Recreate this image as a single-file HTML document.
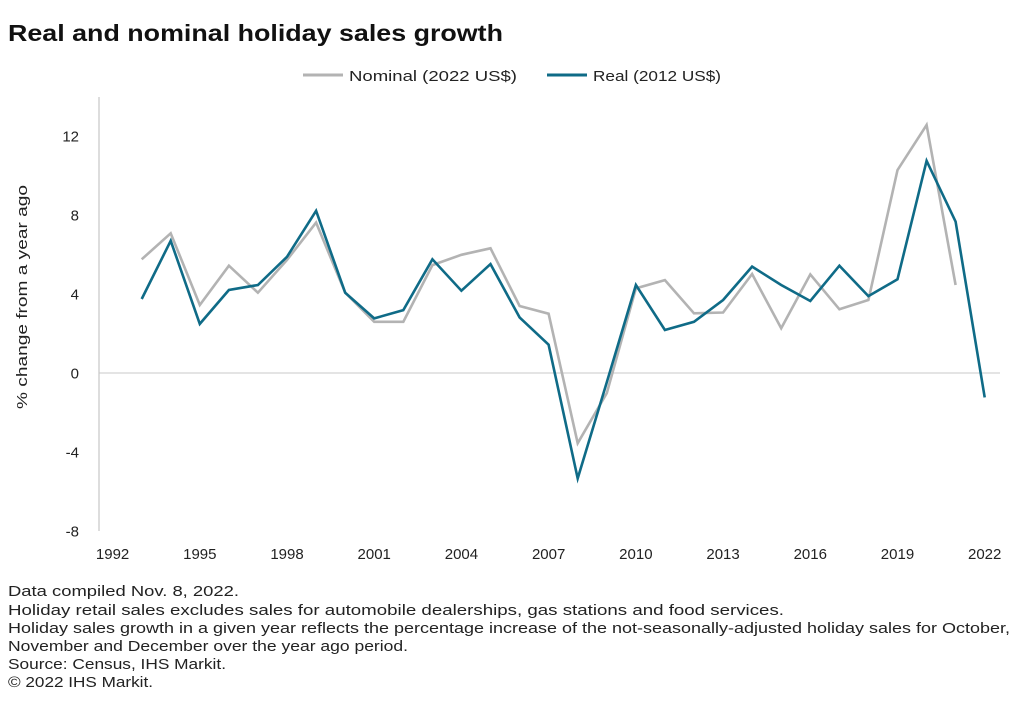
<!DOCTYPE html>
<html><head><meta charset="utf-8"><style>
body{margin:0;background:#fff;font-family:"Liberation Sans",sans-serif;}
svg text{font-family:"Liberation Sans",sans-serif;}
</style></head><body>
<svg width="1013" height="720" viewBox="0 0 1013 720">
<text x="8" y="41" font-size="23" font-weight="bold" fill="#111" textLength="495" lengthAdjust="spacingAndGlyphs">Real and nominal holiday sales growth</text>
<g>
<g><line x1="303" y1="75" x2="343" y2="75" stroke="#b3b3b3" stroke-width="3"/><text x="349" y="81" font-size="15" fill="#222" textLength="168" lengthAdjust="spacingAndGlyphs">Nominal (2022 US$)</text></g>
<g><line x1="547" y1="75" x2="587" y2="75" stroke="#0f6b87" stroke-width="3"/><text x="593" y="81" font-size="15" fill="#222" textLength="128" lengthAdjust="spacingAndGlyphs">Real (2012 US$)</text></g>
</g>
<line x1="99" y1="97" x2="99" y2="531" stroke="#bbb" stroke-width="1"/>
<g id="yticks"></g>
<g id="xticks"></g>
<text transform="translate(27,297) rotate(-90)" text-anchor="middle" font-size="15" fill="#222" textLength="224" lengthAdjust="spacingAndGlyphs">% change from a year ago</text>
<line x1="99" y1="373" x2="1000" y2="373" stroke="#c8c8c8" stroke-width="1"/>
<g id="series"></g>
<g font-size="14.5" fill="#222" lengthAdjust="spacingAndGlyphs">
<text x="8" y="596" textLength="231" lengthAdjust="spacingAndGlyphs">Data compiled Nov. 8, 2022.</text>
<text x="8" y="615" textLength="776" lengthAdjust="spacingAndGlyphs">Holiday retail sales excludes sales for automobile dealerships, gas stations and food services.</text>
<text x="8" y="633" textLength="1002" lengthAdjust="spacingAndGlyphs">Holiday sales growth in a given year reflects the percentage increase of the not-seasonally-adjusted holiday sales for October,</text>
<text x="8" y="651" textLength="400" lengthAdjust="spacingAndGlyphs">November and December over the year ago period.</text>
<text x="8" y="669" textLength="218" lengthAdjust="spacingAndGlyphs">Source: Census, IHS Markit.</text>
<text x="8" y="687" textLength="145" lengthAdjust="spacingAndGlyphs">© 2022 IHS Markit.</text>
</g>
</svg>
<script>
const years=[1993,1994,1995,1996,1997,1998,1999,2000,2001,2002,2003,2004,2005,2006,2007,2008,2009,2010,2011,2012,2013,2014,2015,2016,2017,2018,2019,2020,2021,2022];
const nominal=[5.77,7.09,3.46,5.45,4.08,5.74,7.63,4.08,2.61,2.61,5.48,6.0,6.33,3.41,3.02,-3.54,-1.0,4.3,4.72,3.04,3.08,5.03,2.28,5.01,3.24,3.71,10.29,12.57,4.47,null];
const real=[3.76,6.71,2.5,4.22,4.47,5.9,8.23,4.08,2.78,3.2,5.77,4.18,5.53,2.83,1.45,-5.32,-0.45,4.47,2.19,2.61,3.71,5.4,4.47,3.66,5.45,3.91,4.76,10.76,7.68,-1.22];
const yTicks=[-8,-4,0,4,8,12];
const xTicks=[1992,1995,1998,2001,2004,2007,2010,2013,2016,2019,2022];
const NS='http://www.w3.org/2000/svg';
const xs=y=>112.6+(y-1992)*29.07;
const ys=v=>373.3-v*19.75;
const yt=document.getElementById('yticks');
yTicks.forEach(t=>{const e=document.createElementNS(NS,'text');
e.setAttribute('x',79);e.setAttribute('y',ys(t)+5);e.setAttribute('text-anchor','end');e.setAttribute('font-size','15');e.setAttribute('fill','#222');


e.textContent=t;yt.appendChild(e);});
const xt=document.getElementById('xticks');
xTicks.forEach(t=>{const e=document.createElementNS(NS,'text');
e.setAttribute('x',xs(t));e.setAttribute('y',559);e.setAttribute('text-anchor','middle');e.setAttribute('font-size','15');e.setAttribute('fill','#222');


e.textContent=t;xt.appendChild(e);});
function line(vals,color,name){let d='';vals.forEach((v,i)=>{if(v==null)return;d+=(d?'L':'M')+xs(years[i]).toFixed(1)+','+ys(v).toFixed(1);});
const p=document.createElementNS(NS,'path');p.setAttribute('d',d);p.setAttribute('fill','none');p.setAttribute('stroke',color);p.setAttribute('stroke-width','2.6');p.setAttribute('stroke-linejoin','miter');


document.getElementById('series').appendChild(p);}
line(nominal,'#b3b3b3','nominal-line');
line(real,'#0f6b87','real-line');
</script>
</body></html>
